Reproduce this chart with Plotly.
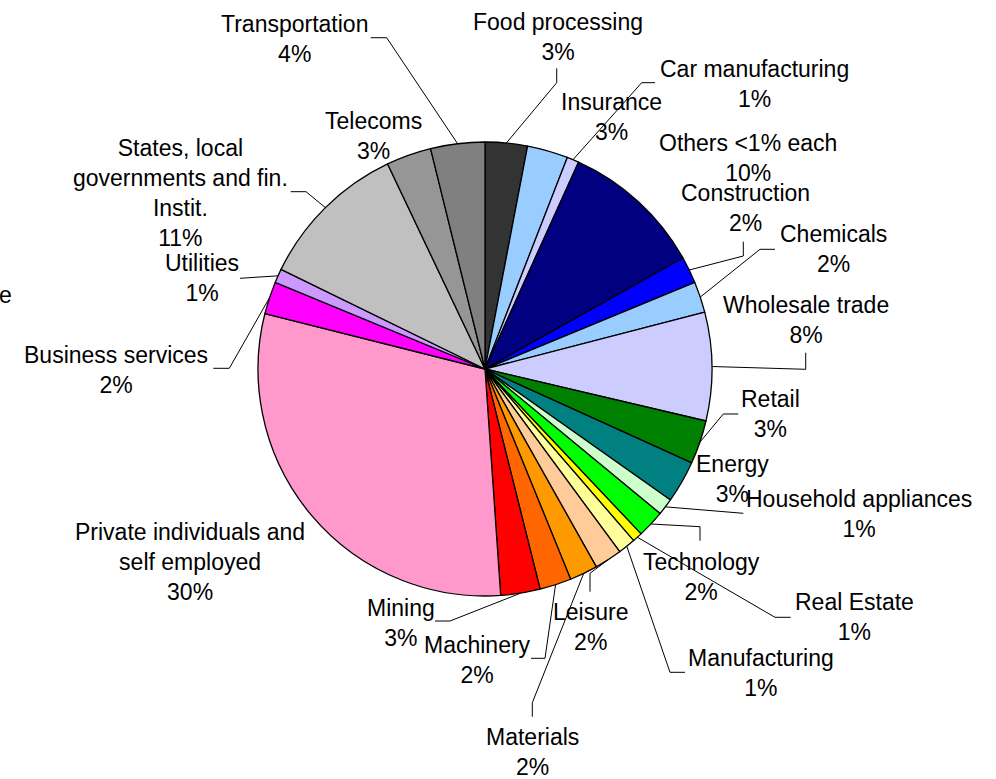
import math
import plotly.graph_objects as go

# ---- data -------------------------------------------------------------
sectors = [
    "Food processing", "Insurance", "Car manufacturing", "Others <1% each",
    "Construction", "Chemicals", "Wholesale trade", "Retail", "Energy",
    "Household appliances", "Technology", "Real Estate", "Manufacturing",
    "Leisure", "Materials", "Machinery", "Mining",
    "Private individuals and\nself employed", "Business services", "Utilities",
    "States, local\ngovernments and fin.\nInstit.", "Telecoms", "Transportation",
]
shares = [
    3.0, 2.9, 0.85, 10.1,
    1.9, 2.2, 7.7, 3.1, 3.0,
    1.2, 1.95, 0.7, 1.25,
    1.95, 2.0, 2.25, 2.8,
    30.0, 2.3, 1.0,
    10.7, 3.2, 3.85,
]

# ---- styling ----------------------------------------------------------
colors = [
    "#333333", "#99CCFF", "#CCCCFF", "#000080",
    "#0000FF", "#99CCFF", "#CCCCFF", "#008000", "#008080",
    "#CCFFCC", "#00FF00", "#FFFF00", "#FFFF99",
    "#FFCC99", "#FF9900", "#FF6600", "#FF0000",
    "#FF99CC", "#FF00FF", "#CC99FF",
    "#C0C0C0", "#969696", "#808080",
]

W, H = 996, 779
CX, CY, R = 485.0, 369.0, 227.0          # pie centre and radius in pixels
FONT = dict(family="Liberation Sans, Arial, sans-serif", size=23, color="black")

# label block centres (px)
label_pos = {
    "Food processing": (557.5, 36.7),
    "Insurance": (611, 116.7),
    "Car manufacturing": (754, 84),
    "Others <1% each": (748, 158.3),
    "Construction": (745, 208),
    "Chemicals": (833.3, 249),
    "Wholesale trade": (805.5, 320),
    "Retail": (770.8, 414.3),
    "Energy": (732, 479),
    "Household appliances": (859, 514),
    "Technology": (701.7, 576.7),
    "Real Estate": (854.7, 616.7),
    "Manufacturing": (760.8, 673.3),
    "Leisure": (590.2, 627),
    "Materials": (532.2, 752),
    "Machinery": (477.5, 660),
    "Mining": (400.8, 623.3),
    "Private individuals and\nself employed": (190, 561.5),
    "Business services": (115.7, 369.5),
    "Utilities": (201.8, 278.3),
    "States, local\ngovernments and fin.\nInstit.": (180.8, 192.5),
    "Telecoms": (373, 136),
    "Transportation": (294.5, 39),
}

# leader-line bend/end points (px), drawn from the slice's outer midpoint
leader_pts = {
    "Transportation": [(386.7, 37.7), (370.7, 37.7)],
    "Food processing": [(556.7, 82.7), (556.7, 68.3)],
    "Car manufacturing": [(641.7, 82.7), (655, 82.7)],
    "Construction": [(743.3, 256), (743.3, 241.7)],
    "Chemicals": [(760, 249.3), (775, 249.3)],
    "Wholesale trade": [(805.7, 369.3), (805.7, 352.7)],
    "Retail": [(723.3, 414), (738.3, 414)],
    "Household appliances": [(743.3, 513.3)],
    "Technology": [(700, 526.7), (700, 540.7)],
    "Real Estate": [(775, 617.3), (790.7, 617.3)],
    "Manufacturing": [(670, 672.3), (685, 672.3)],
    "Leisure": [(590, 573.3), (590, 591.7)],
    "Materials": [(532.3, 702.7), (532.3, 716.7)],
    "Machinery": [(545, 658.3), (531, 658.3)],
    "Mining": [(450, 621), (435, 621)],
    "Business services": [(229.3, 368.3), (213.3, 368.3)],
    "Utilities": [(240, 278.3)],
    "States, local\ngovernments and fin.\nInstit.": [(306, 191.7), (290.7, 191.7)],
}


def px(x, y):
    return x / W, 1 - y / H


total = sum(shares)

fig = go.Figure(
    go.Pie(
        labels=[s.replace("\n", " ") for s in sectors],
        values=shares,
        marker=dict(colors=colors, line=dict(color="black", width=1.3)),
        sort=False,
        direction="clockwise",
        rotation=0,
        textinfo="none",
        hoverinfo="label+percent",
        showlegend=False,
        domain=dict(
            x=[(CX - R) / W, (CX + R) / W],
            y=[1 - (CY + R) / H, 1 - (CY - R) / H],
        ),
    )
)

annotations = []
shapes = []
cum = 0.0
for name, val in zip(sectors, shares):
    mid = (cum + val / 2) / total * 2 * math.pi
    cum += val
    pct = round(val / total * 100)
    lx, ly = label_pos[name]
    ax, ay = px(lx, ly)
    annotations.append(dict(
        x=ax, y=ay, xref="paper", yref="paper",
        text=name.replace("\n", "<br>") + "<br>" + f"{pct}%",
        showarrow=False, align="center", xanchor="center", yanchor="middle",
        font=FONT,
    ))
    if name in leader_pts:
        ex = CX + R * math.sin(mid)
        ey = CY - R * math.cos(mid)
        pts = [(ex, ey)] + leader_pts[name]
        path = ""
        for i, (x, y) in enumerate(pts):
            qx, qy = px(x, y)
            path += ("M" if i == 0 else " L") + f" {qx:.5f},{qy:.5f}"
        shapes.append(dict(type="path", path=path, xref="paper", yref="paper",
                           line=dict(color="black", width=1)))

# tail of a label that runs past the left edge
ex_, ey_ = px(13, 295)
annotations.append(dict(x=ex_, y=ey_, xref="paper", yref="paper", text="e",
                        showarrow=False, xanchor="right", yanchor="middle",
                        font=FONT, borderpad=0))

fig.update_layout(
    width=W, height=H,
    margin=dict(l=0, r=0, t=0, b=0),
    paper_bgcolor="white", plot_bgcolor="white",
    annotations=annotations, shapes=shapes,
)

fig.write_html("out.html")
